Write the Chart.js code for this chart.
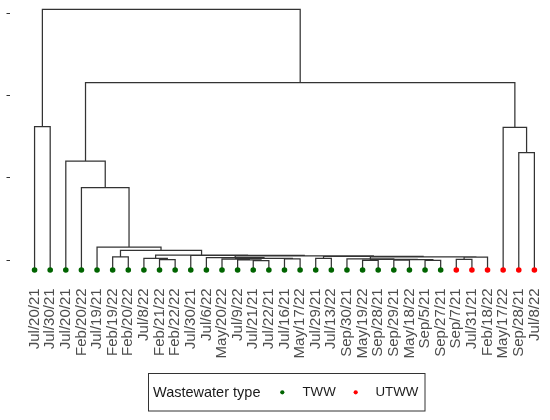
<!DOCTYPE html>
<html>
<head>
<meta charset="utf-8">
<script src="https://cdn.jsdelivr.net/npm/chart.js@4.4.1/dist/chart.umd.min.js"></script>
<style>
  html, body { margin: 0; padding: 0; background: #ffffff; }
  #wrap { width: 550px; height: 420px; }
</style>
</head>
<body>
<div id="wrap"><canvas id="c" width="550" height="420"></canvas></div>
<script>
// ---- Data (leaf order left to right) ----
const leafLabels = [
  "Jul/20/21","Jul/30/21","Jul/20/21","Feb/20/22","Jul/19/21","Feb/19/22","Feb/20/22",
  "Jul/8/22","Feb/21/22","Feb/22/22","Jul/30/21","Jul/6/22","May/20/22","Jul/9/22",
  "Jul/21/21","Jul/22/21","Jul/16/21","May/17/22","Jul/29/21","Jul/13/22","Sep/30/21",
  "May/19/22","Sep/28/21","Sep/29/21","May/18/22","Sep/5/21","Sep/27/21","Sep/7/21",
  "Jul/31/21","Feb/18/22","May/17/22","Sep/28/21","Jul/8/22"
];
const leafTypes = [
  "TWW","TWW","TWW","TWW","TWW","TWW","TWW","TWW","TWW","TWW","TWW","TWW","TWW","TWW",
  "TWW","TWW","TWW","TWW","TWW","TWW","TWW","TWW","TWW","TWW","TWW","TWW","TWW","UTWW",
  "UTWW","UTWW","UTWW","UTWW","UTWW"
];
// hclust-style merges: negative = leaf (-1 is first leaf), positive = earlier merge (1-based)
const mergeLeft  = [-15,-14,-13,-17, 3,-12,-19,-22,-24,-26, 9, 8,-21,-28, 14, 13,  7,  6,-11, -9, -8, 21, -6, 23, -5, -4, -3,-32,-31, 27, -1, 31];
const mergeRight = [-16,  1,  2,-18, 4,  5,-20,-23,-25,-27,10,11, 12,-29,-30, 15, 16, 17, 18,-10, 20, 19, -7, 22, 24, 25, 26,-33, 28, 29, -2, 30];
const mergeHeight = [
  0.115,0.122,0.131,0.134,0.140,0.150,0.140,0.118,0.120,0.118,0.125,0.130,0.135,0.130,
  0.155,0.160,0.165,0.170,0.176,0.125,0.140,0.182,0.158,0.239,0.279,1.000,1.324,1.425,
  1.734,2.276,1.741,3.168
];
const typeNames = ["TWW","UTWW"];
const typeColors = ["#006400","#FF0000"];
const legendTitle = "Wastewater type";
const yTickValues = [0.12, 1.12, 2.12, 3.12];

// ---- Build dendrogram segments from merges ----
const nodeX = [], nodeH = [];
function childPos(id) {
  if (id < 0) return { x: -id - 1, h: 0 };
  return { x: nodeX[id - 1], h: nodeH[id - 1] };
}
const segPoints = [];
for (let k = 0; k < mergeLeft.length; k++) {
  const a = childPos(mergeLeft[k]);
  const b = childPos(mergeRight[k]);
  const H = mergeHeight[k];
  nodeX.push((a.x + b.x) / 2);
  nodeH.push(H);
  segPoints.push({x: a.x, y: a.h}, {x: a.x, y: H}, {x: b.x, y: H}, {x: b.x, y: b.h}, {x: a.x, y: null});
}

const pointSets = typeNames.map((t, ti) => ({
  label: t,
  data: leafLabels.map((_, i) => i).filter(i => leafTypes[i] === t).map(i => ({x: i, y: 0})),
  backgroundColor: typeColors[ti],
  borderWidth: 0,
  pointRadius: 2.8,
  pointHoverRadius: 2.8,
  showLine: false,
  order: 0
}));

const FONT = "'Liberation Sans', Arial, sans-serif";

const legendPlugin = {
  id: 'wwLegend',
  afterDraw(chart) {
    const c = chart.ctx;
    c.save();
    c.strokeStyle = '#333333';
    c.lineWidth = 1;
    c.strokeRect(148.5, 373.5, 276.5, 37.5);
    c.textBaseline = 'middle';
    c.textAlign = 'left';
    c.fillStyle = '#1a1a1a';
    c.font = '14.5px ' + FONT;
    c.fillText(legendTitle, 153, 392.5);
    const dotX = [282.3, 355.7];
    const txtX = [302.5, 375.5];
    c.font = '13.3px ' + FONT;
    typeNames.forEach((t, i) => {
      c.beginPath();
      c.fillStyle = typeColors[i];
      c.arc(dotX[i], 392.3, 2.1, 0, Math.PI * 2);
      c.fill();
      c.fillStyle = '#1a1a1a';
      c.fillText(t, txtX[i], 392.5);
    });
    c.restore();
  }
};

new Chart(document.getElementById('c').getContext('2d'), {
  type: 'scatter',
  data: {
    datasets: [
      ...pointSets,
      {
        label: 'tree',
        data: segPoints,
        showLine: true,
        spanGaps: false,
        borderColor: '#333333',
        borderWidth: 1.25,
        pointRadius: 0,
        pointHoverRadius: 0,
        fill: false,
        tension: 0,
        order: 2
      }
    ]
  },
  options: {
    responsive: false,
    animation: false,
    events: [],
    layout: { padding: { top: 5, left: 0, right: 0, bottom: 0 } },
    plugins: { legend: { display: false }, tooltip: { enabled: false } },
    scales: {
      x: {
        type: 'linear',
        min: -1.605,
        max: 32.82,
        afterBuildTicks: s => { s.ticks = leafLabels.map((_, i) => ({ value: i })); },
        ticks: {
          autoSkip: false,
          minRotation: 90,
          maxRotation: 90,
          padding: 12,
          color: '#4d4d4d',
          font: { family: FONT, size: 15 },
          callback: v => leafLabels[v]
        },
        grid: { display: false, drawTicks: false },
        border: { display: false },
        afterFit: s => { s.height = 143.6; s.paddingLeft = 0; s.paddingRight = 0; }
      },
      y: {
        type: 'linear',
        min: -0.078,
        max: 3.22,
        afterBuildTicks: s => { s.ticks = yTickValues.map(v => ({ value: v })); },
        ticks: { padding: 0, callback: () => '' },
        grid: { display: true, drawOnChartArea: false, drawTicks: true, tickLength: 3, color: '#333333', lineWidth: 1 },
        border: { display: false },
        afterFit: s => { s.width = 9.5; s.paddingTop = 0; s.paddingBottom = 0; }
      }
    }
  },
  plugins: [legendPlugin]
});
</script>
</body>
</html>
